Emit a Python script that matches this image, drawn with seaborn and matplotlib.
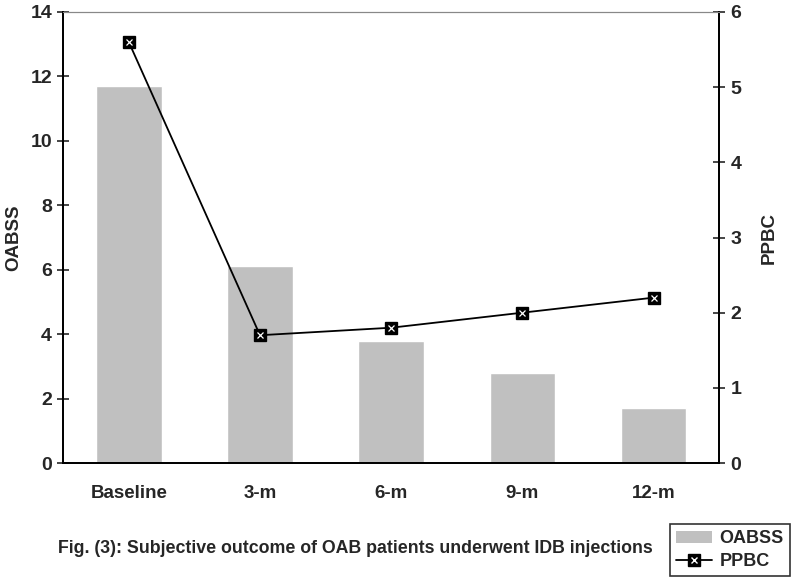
import matplotlib
matplotlib.use("Agg")
import matplotlib.pyplot as plt
import seaborn as sns
import pandas as pd
from matplotlib.lines import Line2D
from matplotlib.patches import Patch

periods = ["Baseline", "3-m", "6-m", "9-m", "12-m"]
oabss = [11.7, 6.1, 3.8, 2.8, 1.7]
ppbc = [5.6, 1.7, 1.8, 2.0, 2.2]

data = pd.DataFrame({"period": periods, "OABSS": oabss, "PPBC": ppbc})

sns.set_style("white")
plt.rcParams["font.family"] = ["Liberation Sans", "DejaVu Sans"]
plt.rcParams["font.weight"] = "bold"

fig, ax = plt.subplots(figsize=(8, 5.87), dpi=100)
fig.subplots_adjust(left=0.079, right=0.899, top=0.9796, bottom=0.2112)

sns.barplot(data=data, x="period", y="OABSS", color="#c0c0c0", saturation=1,
            width=0.5, ax=ax)
ax.set_ylim(0, 14)
ax.set_xlim(-0.5, 4.5)
ax.set_yticks(range(0, 15, 2))
ax.set_xlabel("")
ax.set_ylabel("OABSS", fontsize=13.5, fontweight="bold", labelpad=6)
ax.tick_params(axis="y", direction="inout", length=8, width=1.2, labelsize=14, pad=4)
ax.tick_params(axis="x", length=0, labelsize=13.5, pad=16)
ax.set_xticks([i - 0.5 for i in range(6)], minor=True)
ax.tick_params(axis="x", which="minor", direction="inout", length=10, width=1.2)

ax2 = ax.twinx()
sns.pointplot(data=data, x="period", y="PPBC", color="black", markers="s",
              markersize=9, linewidth=1.3, ax=ax2)
sns.pointplot(data=data, x="period", y="PPBC", color="white", markers="x",
              markersize=4, linestyle="none", linewidth=1.2, ax=ax2)
ax2.set_ylim(0, 6)
ax2.set_xlim(-0.5, 4.5)
ax2.set_ylabel("PPBC", fontsize=13.5, fontweight="bold", labelpad=14)
ax2.tick_params(axis="y", direction="inout", length=8, width=1.2, labelsize=14, pad=4)

for a in (ax, ax2):
    a.spines["left"].set_linewidth(1.3)
    a.spines["right"].set_linewidth(1.3)
    a.spines["bottom"].set_linewidth(1.3)
    a.spines["top"].set_color("#888888")
    a.spines["top"].set_linewidth(0.8)
    for s in ("left", "right", "bottom"):
        a.spines[s].set_color("black")

fig.text(0.444, 0.066, "Fig. (3): Subjective outcome of OAB patients underwent IDB injections",
         ha="center", va="center", fontsize=12.8, fontweight="bold")

handles = [Patch(facecolor="#c0c0c0", edgecolor="none", label="OABSS"),
           (Line2D([], [], color="black", marker="s", markersize=9, linewidth=1.3),
            Line2D([], [], color="white", marker="x", markersize=4, linestyle="none"))]
leg = fig.legend(handles, ["OABSS", "PPBC"], loc="lower right",
                 bbox_to_anchor=(0.999, 0.003), frameon=True, fancybox=False,
                 fontsize=13, handlelength=2.0, handletextpad=0.4,
                 borderpad=0.35, labelspacing=0.3)
leg.get_frame().set_edgecolor("black")
leg.get_frame().set_linewidth(1.2)
for t in leg.get_texts():
    t.set_fontweight("bold")

fig.savefig("out.png", dpi=100)
